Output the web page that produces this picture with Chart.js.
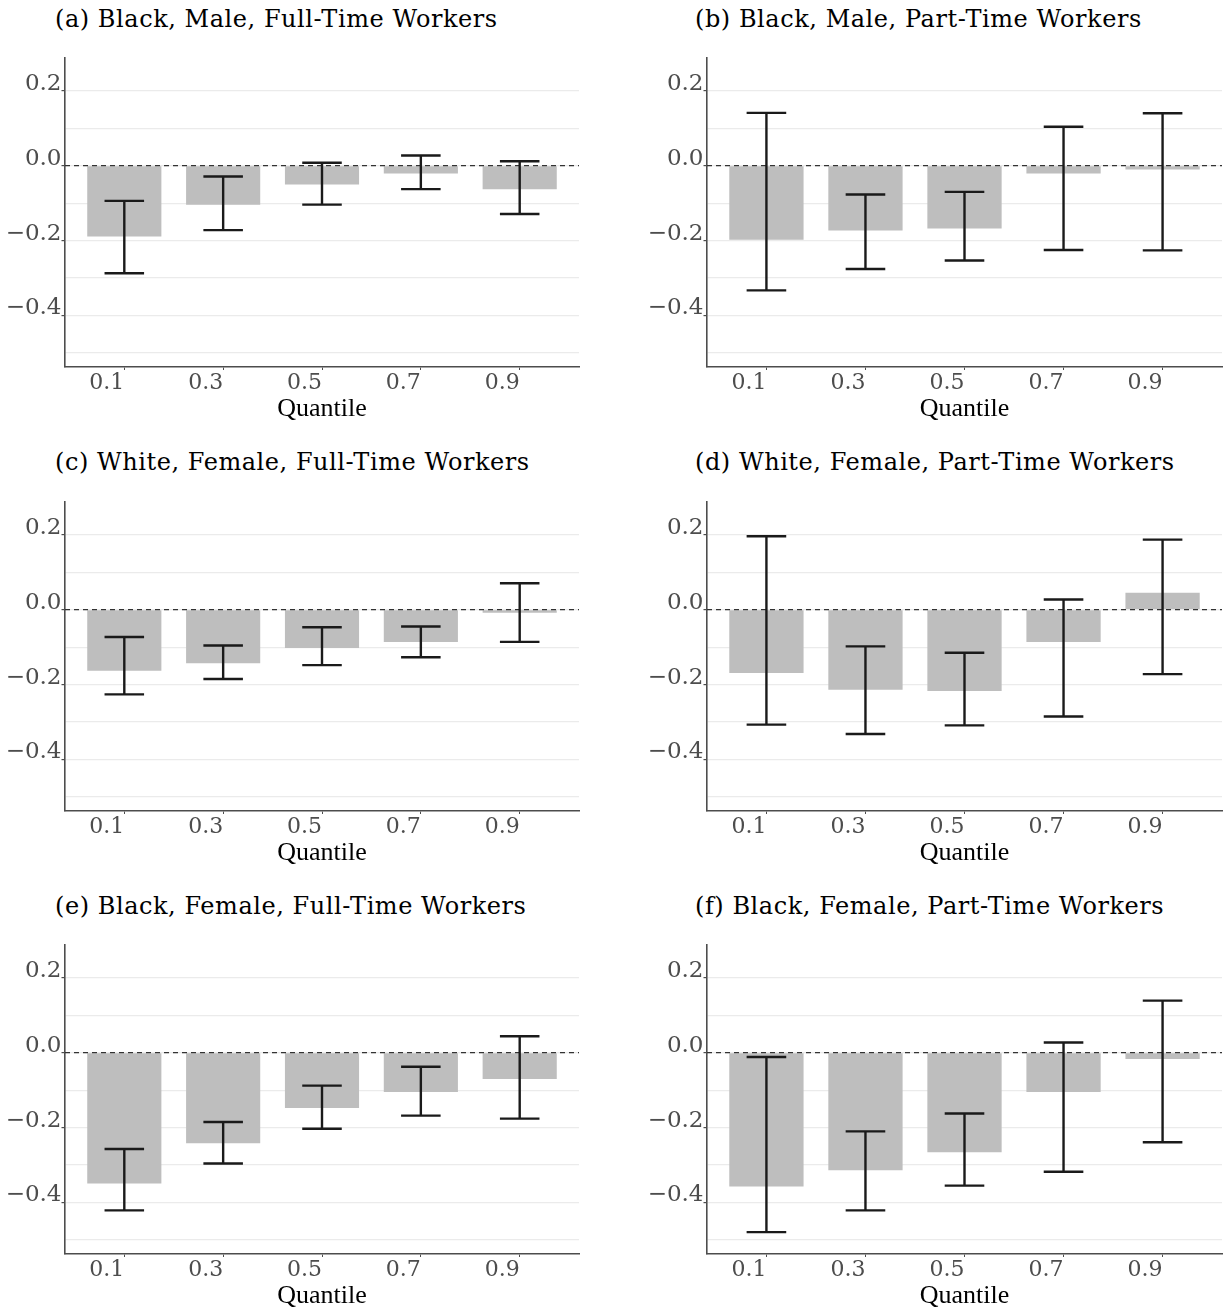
<!DOCTYPE html>
<html>
<head>
<meta charset="utf-8">
<script src="https://cdn.jsdelivr.net/npm/chart.js@4.4.1/dist/chart.umd.min.js"></script>
<style>
  html, body { margin: 0; padding: 0; background: #ffffff; }
  #page { position: relative; width: 1225px; height: 1310px; overflow: hidden; background: #fff; }
  .panel { position: absolute; height: 443px; }
  .panel canvas { display: block; }
  .ptitle { position: absolute; font-family: 'DejaVu Serif', serif; font-size: 24px; line-height: 24px;
            letter-spacing: 0.55px; color: #000; white-space: nowrap; }
</style>
</head>
<body>
<div id="page"></div>
<script>
// ---------------- data ----------------
const quantiles = ['0.1', '0.3', '0.5', '0.7', '0.9'];
const yTickValues = [-0.5, -0.4, -0.3, -0.2, -0.1, 0.0, 0.1, 0.2];
const yLabelValues = [-0.4, -0.2, 0.0, 0.2];

const titles = [
  '(a) Black, Male, Full-Time Workers',
  '(b) Black, Male, Part-Time Workers',
  '(c) White, Female, Full-Time Workers',
  '(d) White, Female, Part-Time Workers',
  '(e) Black, Female, Full-Time Workers',
  '(f) Black, Female, Part-Time Workers'
];

const estA  = [-0.189, -0.104, -0.050, -0.021, -0.063];
const lowA  = [-0.287, -0.172, -0.104, -0.0625, -0.129];
const highA = [-0.094, -0.029, 0.008, 0.027, 0.012];

const estB  = [-0.198, -0.173, -0.168, -0.021, -0.010];
const lowB  = [-0.333, -0.276, -0.253, -0.225, -0.226];
const highB = [0.141, -0.077, -0.070, 0.104, 0.140];

const estC  = [-0.163, -0.143, -0.102, -0.086, -0.008];
const lowC  = [-0.226, -0.185, -0.148, -0.127, -0.086];
const highC = [-0.073, -0.0955, -0.047, -0.045, 0.0705];

const estD  = [-0.169, -0.214, -0.217, -0.086, 0.045];
const lowD  = [-0.307, -0.332, -0.309, -0.285, -0.172];
const highD = [0.196, -0.098, -0.115, 0.027, 0.187];

const estE  = [-0.349, -0.242, -0.148, -0.105, -0.0705];
const lowE  = [-0.421, -0.296, -0.203, -0.168, -0.176];
const highE = [-0.257, -0.185, -0.088, -0.0375, 0.044];

const estF  = [-0.357, -0.314, -0.266, -0.105, -0.017];
const lowF  = [-0.479, -0.421, -0.355, -0.318, -0.239];
const highF = [-0.0116, -0.210, -0.1625, 0.027, 0.139];

const panelData = [
  [estA, lowA, highA], [estB, lowB, highB],
  [estC, lowC, highC], [estD, lowD, highD],
  [estE, lowE, highE], [estF, lowF, highF]
];

// ---------------- plugins ----------------
const zeroAndErrorPlugin = {
  id: 'errorBars',
  afterDatasetsDraw(chart, args, opts) {
    const ctx = chart.ctx;
    const xs = chart.scales.x, ys = chart.scales.y;
    const area = chart.chartArea;
    // dashed zero line
    ctx.save();
    ctx.strokeStyle = '#333333';
    ctx.lineWidth = 1.3;
    ctx.setLineDash([5, 4]);
    const y0 = ys.getPixelForValue(0);
    ctx.beginPath();
    ctx.moveTo(area.left, y0);
    ctx.lineTo(area.right, y0);
    ctx.stroke();
    ctx.restore();
    // error bars
    ctx.save();
    ctx.strokeStyle = '#1a1a1a';
    ctx.lineWidth = 2.4;
    ctx.lineCap = 'butt';
    opts.low.forEach((lo, i) => {
      const hi = opts.high[i];
      const xc = xs.getPixelForValue(i);
      const half = xs.getPixelForValue(i + opts.capWidth / 2) - xc;
      const yl = ys.getPixelForValue(lo);
      const yh = ys.getPixelForValue(hi);
      ctx.beginPath();
      ctx.moveTo(xc, yh); ctx.lineTo(xc, yl);
      ctx.moveTo(xc - half, yh); ctx.lineTo(xc + half, yh);
      ctx.moveTo(xc - half, yl); ctx.lineTo(xc + half, yl);
      ctx.stroke();
    });
    ctx.restore();
  }
};

function fmt(v) {
  const r = Math.round(v * 10) / 10;
  const s = Math.abs(r).toFixed(1);
  return (r < 0 ? '\u2212' : '') + s;
}

// ---------------- build panels ----------------
const page = document.getElementById('page');
const rowTops = [0, 443.7, 887];

panelData.forEach((pd, idx) => {
  const col = idx % 2, row = Math.floor(idx / 2);
  const left = col === 0 ? 0 : 642;
  const width = col === 0 ? 612 : 583;
  const padRight = col === 0 ? 33 : 3;

  const t = document.createElement('div');
  t.className = 'ptitle';
  t.textContent = titles[idx];
  t.style.left = (col === 0 ? 55 : 695) + 'px';
  t.style.top = (rowTops[row] + 6.7) + 'px';
  page.appendChild(t);

  const div = document.createElement('div');
  div.className = 'panel';
  div.style.left = left + 'px';
  div.style.top = rowTops[row] + 'px';
  div.style.width = width + 'px';
  const cv = document.createElement('canvas');
  div.appendChild(cv);
  page.appendChild(div);

  const [est, low, high] = pd;

  new Chart(cv, {
    type: 'bar',
    data: {
      datasets: [{
        data: est.map((v, i) => ({ x: i, y: v })),
        backgroundColor: '#bebebe',
        borderWidth: 0,
        barPercentage: 0.75,
        categoryPercentage: 1.0
      }]
    },
    options: {
      responsive: true,
      maintainAspectRatio: false,
      animation: false,
      devicePixelRatio: 1,
      layout: { padding: { left: 0, right: padRight, top: 58, bottom: 0 } },
      plugins: {
        legend: { display: false },
        tooltip: { enabled: false },
        title: { display: false },
        errorBars: { low: low, high: high, capWidth: 0.4 }
      },
      scales: {
        x: {
          type: 'linear',
          offset: false,
          min: -0.6,
          max: 4.6,
          afterBuildTicks: (s) => { s.ticks = quantiles.map((q, i) => ({ value: i })); },
          afterFit: (s) => { s.height = 76; },
          ticks: {
            autoSkip: false,
            maxRotation: 0,
            minRotation: 0,
            align: 'end',
            padding: 0,
            color: '#4d4d4d',
            font: { family: 'DejaVu Serif', size: 22 },
            callback: (v) => quantiles[v]
          },
          grid: {
            display: true,
            offset: false,
            drawOnChartArea: false,
            drawTicks: true,
            tickLength: 3,
            tickColor: '#4d4d4d',
            tickWidth: 1
          },
          border: { display: true, color: '#4d4d4d', width: 1.6 },
          title: {
            display: true,
            text: 'Quantile',
            color: '#000000',
            font: { family: 'Liberation Serif', size: 26, lineHeight: 1.2 },
            padding: { top: 0, bottom: 18.7 }
          }
        },
        y: {
          type: 'linear',
          min: -0.5375,
          max: 0.2875,
          afterBuildTicks: (s) => { s.ticks = yTickValues.map(v => ({ value: v })); },
          afterFit: (s) => { s.width = 65; },
          ticks: {
            align: 'end',
            padding: 0,
            labelOffset: 4.5,
            color: '#4d4d4d',
            font: { family: 'DejaVu Serif', size: 23 },
            callback: (v) => yLabelValues.some(l => Math.abs(l - v) < 1e-9) ? fmt(v) : ''
          },
          grid: {
            color: '#ebebeb',
            lineWidth: 1.2,
            drawTicks: true,
            tickLength: 3.5,
            tickColor: (c) => yLabelValues.some(l => Math.abs(l - c.tick.value) < 1e-9) ? '#4d4d4d' : 'rgba(0,0,0,0)'
          },
          border: { display: true, color: '#4d4d4d', width: 1.6 }
        }
      }
    },
    plugins: [zeroAndErrorPlugin]
  });
});
</script>
</body>
</html>
